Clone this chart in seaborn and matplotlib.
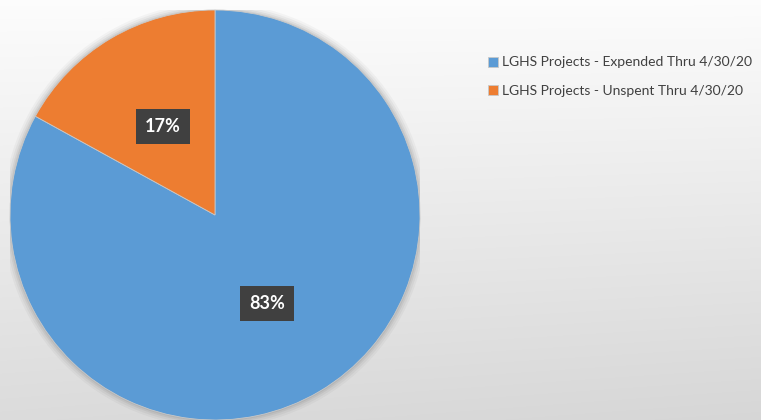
import numpy as np
import matplotlib
matplotlib.use("Agg")
import matplotlib.pyplot as plt
import seaborn as sns

# data
labels = ["LGHS Projects - Expended Thru 4/30/20", "LGHS Projects - Unspent Thru 4/30/20"]
shares = [83, 17]
colors = ["#5B9BD5", "#ED7D31"]

sns.set_theme(style="white")
plt.rcParams['font.family'] = ['Lato', 'DejaVu Sans']

W, H = 761, 420
fig = plt.figure(figsize=(W / 100, H / 100), dpi=100)

# grey background, near white at top, darker toward the bottom
bg = fig.add_axes([0, 0, 1, 1])
yy, xx = np.mgrid[0:H, 0:W]
shade = 0.99 - 0.13 * (yy / H) - 0.02 * (xx / W) * (yy / H)
bg.imshow(np.dstack([shade] * 3), extent=[0, 1, 0, 1], aspect="auto", vmin=0, vmax=1)
bg.axis("off")

ax = fig.add_axes([10 / W, 0, 410 / W, 410 / H])
# soft shadow around the pie
for r, a in [(1.035, 0.03), (1.025, 0.04), (1.015, 0.05), (1.007, 0.06)]:
    ax.add_patch(plt.Circle((0, 0), r, color="black", alpha=a, lw=0))
wedges, texts, autotexts = ax.pie(
    shares, colors=colors, startangle=90, counterclock=False,
    autopct="%1.0f%%", pctdistance=0.5, radius=1,
    wedgeprops=dict(linewidth=0.6, edgecolor="#c8c8c8"),
    textprops=dict(color="white", fontsize=13, fontweight="bold"),
)
for t in autotexts:
    t.set_bbox(dict(boxstyle="square,pad=0.5", facecolor="#404040", edgecolor="none"))
ax.set_xlim(-1, 1)
ax.set_ylim(-1, 1)
ax.set_aspect("equal")
ax.axis("off")

fig.legend(wedges, labels, loc="upper left", bbox_to_anchor=(476 / W, 1 - 44 / H),
           frameon=False, fontsize=10, handlelength=0.7, handleheight=0.7,
           handletextpad=0.3, labelspacing=1.2, labelcolor="#404040")

fig.savefig("out.png", dpi=100)
